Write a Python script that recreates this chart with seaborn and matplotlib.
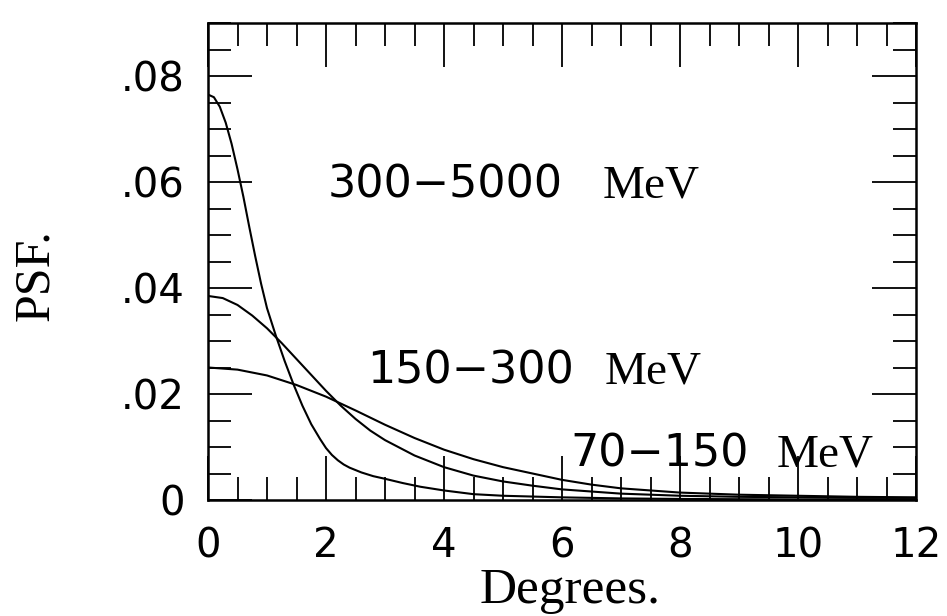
import matplotlib
matplotlib.use("Agg")
import matplotlib.pyplot as plt
from matplotlib.ticker import MultipleLocator, FixedLocator
import numpy as np
import pandas as pd
import seaborn as sns

# Point-spread function profiles for three energy bands
deg_high = [0, 0.1, 0.2, 0.3, 0.4, 0.5, 0.6, 0.7, 0.8, 0.9, 1.0, 1.15, 1.3, 1.45,
            1.6, 1.75, 1.9, 2.0, 2.1, 2.2, 2.3, 2.4, 2.6, 2.8, 3.0, 3.3, 3.6,
            4.0, 4.5, 5.0, 6.0, 7.0, 8.0, 10.0, 12.0]
psf_high = [0.0765, 0.0760, 0.0742, 0.0712, 0.0672, 0.0624, 0.0572, 0.0515,
            0.0460, 0.0408, 0.0362, 0.0310, 0.0262, 0.0218, 0.0178, 0.0143,
            0.0115, 0.0098, 0.0085, 0.0075, 0.0067, 0.0061, 0.0052, 0.0045,
            0.0040, 0.0032, 0.0025, 0.0018, 0.0011, 0.0008, 0.0005, 0.0003,
            0.0002, 0.0001, 0.0001]

deg_mid = [0, 0.25, 0.5, 0.75, 1.0, 1.25, 1.5, 1.75, 2.0, 2.25, 2.5, 2.75, 3.0,
           3.5, 4.0, 4.5, 5.0, 5.5, 6.0, 7.0, 8.0, 9.0, 10.0, 11.0, 12.0]
psf_mid = [0.0385, 0.0381, 0.0368, 0.0348, 0.0324, 0.0296, 0.0266, 0.0236,
           0.0206, 0.0178, 0.0153, 0.0131, 0.0113, 0.0084, 0.0062, 0.0046,
           0.0035, 0.0027, 0.0020, 0.0012, 0.0008, 0.0006, 0.0005, 0.0004,
           0.0004]

deg_low = [0, 0.5, 1.0, 1.5, 2.0, 2.5, 3.0, 3.5, 4.0, 4.5, 5.0, 5.5, 6.0, 6.5,
           7.0, 8.0, 9.0, 10.0, 11.0, 12.0]
psf_low = [0.0250, 0.0246, 0.0235, 0.0217, 0.0195, 0.0169, 0.0142, 0.0117,
           0.0095, 0.0077, 0.0062, 0.0050, 0.0038, 0.0029, 0.0022, 0.0014,
           0.0010, 0.0008, 0.0006, 0.0005]

band_ranges = ["300\u22125000", "150\u2212300", "70\u2212150"]
band_units = "MeV"

x_ticks = [0, 2, 4, 6, 8, 10, 12]
y_ticks = [0, 0.02, 0.04, 0.06, 0.08]
y_tick_labels = ["0", ".02", ".04", ".06", ".08"]

frames = []
for name, xs, ys in zip(band_ranges, [deg_high, deg_mid, deg_low],
                        [psf_high, psf_mid, psf_low]):
    frames.append(pd.DataFrame({"deg": xs, "psf": ys, "band": name}))
df = pd.concat(frames, ignore_index=True)

sns.set_style("ticks")
plt.rcParams["font.family"] = ["DejaVu Sans"]
plt.rcParams["text.color"] = "black"
plt.rcParams["axes.labelcolor"] = "black"

W, H = 947, 616
fig = plt.figure(figsize=(W / 100, H / 100), dpi=100)
ax = fig.add_axes([208 / W, 116 / H, 708 / W, 477 / H])

sns.lineplot(data=df, x="deg", y="psf", hue="band",
             palette={b: "black" for b in band_ranges},
             estimator=None, sort=False, legend=False, linewidth=1.5, ax=ax)

ax.set_xlim(0, 12)
ax.set_ylim(0, 0.09)
ax.xaxis.set_major_locator(FixedLocator(x_ticks))
ax.xaxis.set_minor_locator(MultipleLocator(0.5))
ax.yaxis.set_major_locator(FixedLocator(y_ticks))
ax.yaxis.set_minor_locator(MultipleLocator(0.005))
ax.set_xticklabels([str(t) for t in x_ticks])
ax.set_yticklabels(y_tick_labels)

for s in ax.spines.values():
    s.set_linewidth(1.8)
    s.set_color("black")

ax.tick_params(which="major", direction="in", length=32, width=1.3,
               top=True, right=True, labelsize=29, colors="black")
ax.tick_params(which="minor", direction="in", length=16.5, width=1.3,
               top=True, right=True, colors="black")
ax.tick_params(axis="x", which="major", pad=19)
ax.tick_params(axis="y", which="major", pad=17)
for lab in ax.get_xticklabels() + ax.get_yticklabels():
    lab.set_fontfamily("DejaVu Sans")

serif = "Liberation Serif"
ax.set_xlabel("Degrees.", fontsize=37, fontfamily=serif, color="black")
ax.xaxis.label.set_va("baseline")
ax.xaxis.set_label_coords(0.511, -0.2159)
ax.set_ylabel("PSF.", fontsize=36, fontfamily=serif, color="black")
ax.yaxis.label.set_va("baseline")
ax.yaxis.set_label_coords(-0.226, 0.472)

# band labels: numeric range followed by the unit
label_pos = [(2.03, 0.0570, 6.69), (2.69, 0.0220, 6.73), (6.15, 0.0064, 9.64)]
for name, (xr, yb, xu) in zip(band_ranges, label_pos):
    ax.text(xr, yb, name, fontsize=32, fontfamily="DejaVu Sans",
            ha="left", va="baseline", color="black")
    ax.text(xu, yb, band_units, fontsize=34, fontfamily=serif,
            ha="left", va="baseline", color="black")

fig.savefig("out.png", dpi=100, facecolor="white")
